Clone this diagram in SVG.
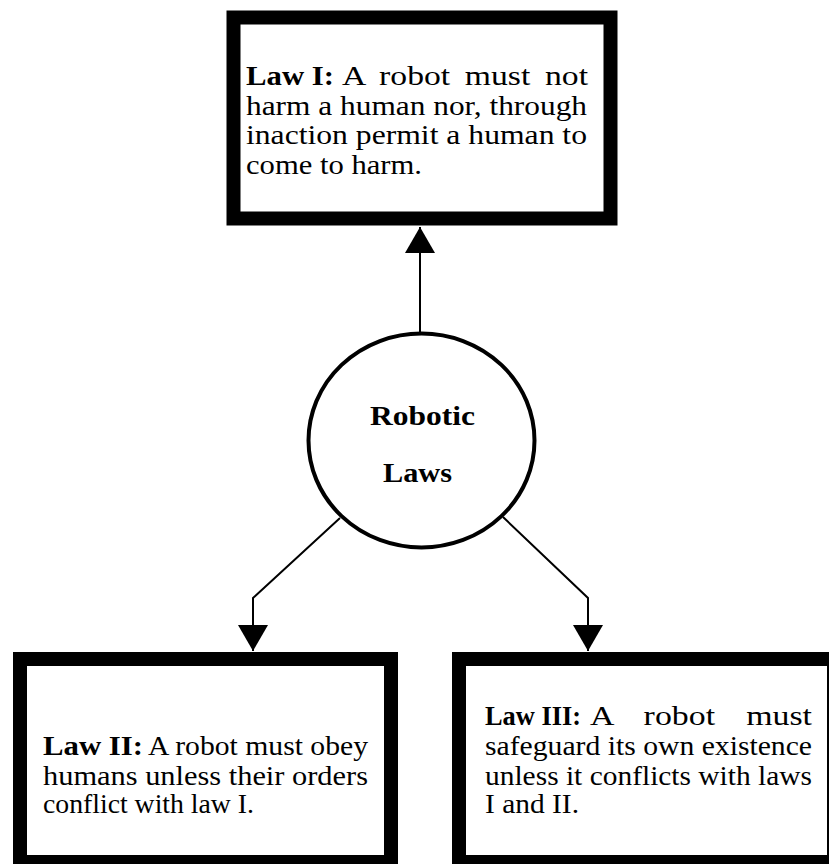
<svg xmlns="http://www.w3.org/2000/svg" width="829" height="864" viewBox="0 0 829 864">
  <style>
    .box { fill: #ffffff; stroke: #000000; stroke-width: 14; }
    .hub { fill: #ffffff; stroke: #000000; stroke-width: 4; }
    .t { font-family: "Liberation Serif", "Times New Roman", serif; font-size: 27px; fill: #000000; }
    .b { font-weight: bold; }
    .conn { fill: none; stroke: #000000; stroke-width: 2; }
  </style>
  <defs>
    <marker id="arrow" markerUnits="userSpaceOnUse" markerWidth="27" markerHeight="30" refX="26" refY="15" orient="auto">
      <path d="M0,0 L26,15 L0,30 Z" fill="#000000"/>
    </marker>
  </defs>
  <rect width="829" height="864" fill="#ffffff"/>

  <g id="law1">
    <rect class="box" x="233.5" y="17.5" width="377" height="201" stroke-width="13"/>
    <text class="t b" x="246" y="85" textLength="88" lengthAdjust="spacingAndGlyphs">Law I:</text>
    <text class="t" x="342" y="85" word-spacing="5" textLength="246" lengthAdjust="spacingAndGlyphs">A robot must not</text>
    <text class="t" x="246" y="114.5" textLength="341" lengthAdjust="spacingAndGlyphs">harm a human nor, through</text>
    <text class="t" x="246" y="144" textLength="341" lengthAdjust="spacingAndGlyphs">inaction permit a human to</text>
    <text class="t" x="246" y="173.5" textLength="176" lengthAdjust="spacingAndGlyphs">come to harm.</text>
  </g>

  <g id="hub">
    <ellipse class="hub" cx="421.5" cy="440.5" rx="113" ry="107"/>
    <text class="t b" x="422.5" y="425" text-anchor="middle" textLength="105" lengthAdjust="spacingAndGlyphs">Robotic</text>
    <text class="t b" x="417.5" y="482" text-anchor="middle" textLength="69" lengthAdjust="spacingAndGlyphs">Laws</text>
  </g>

  <g id="law2">
    <rect class="box" x="20" y="659" width="371" height="203"/>
    <text class="t b" x="43" y="755" textLength="100" lengthAdjust="spacingAndGlyphs">Law II:</text>
    <text class="t" x="148" y="755" textLength="220" lengthAdjust="spacingAndGlyphs">A robot must obey</text>
    <text class="t" x="43" y="784.5" textLength="325" lengthAdjust="spacingAndGlyphs">humans unless their orders</text>
    <text class="t" x="43" y="813" textLength="211" lengthAdjust="spacingAndGlyphs">conflict with law I.</text>
  </g>

  <g id="law3">
    <rect class="box" x="459" y="659" width="375" height="203"/>
    <text class="t b" x="485" y="725" textLength="96" lengthAdjust="spacingAndGlyphs">Law III:</text>
    <text class="t" x="590" y="725" word-spacing="18" textLength="222" lengthAdjust="spacingAndGlyphs">A robot must</text>
    <text class="t" x="485" y="755" textLength="327" lengthAdjust="spacingAndGlyphs">safeguard its own existence</text>
    <text class="t" x="485" y="784.5" textLength="327" lengthAdjust="spacingAndGlyphs">unless it conflicts with laws</text>
    <text class="t" x="485" y="813" textLength="94" lengthAdjust="spacingAndGlyphs">I and II.</text>
  </g>

  <g id="connectors">
    <path class="conn" d="M420,334 L420,227" marker-end="url(#arrow)"/>
    <path class="conn" d="M340,518 L253,598 L253,651" marker-end="url(#arrow)"/>
    <path class="conn" d="M503,517 L588,598 L588,651" marker-end="url(#arrow)"/>
  </g>
</svg>
